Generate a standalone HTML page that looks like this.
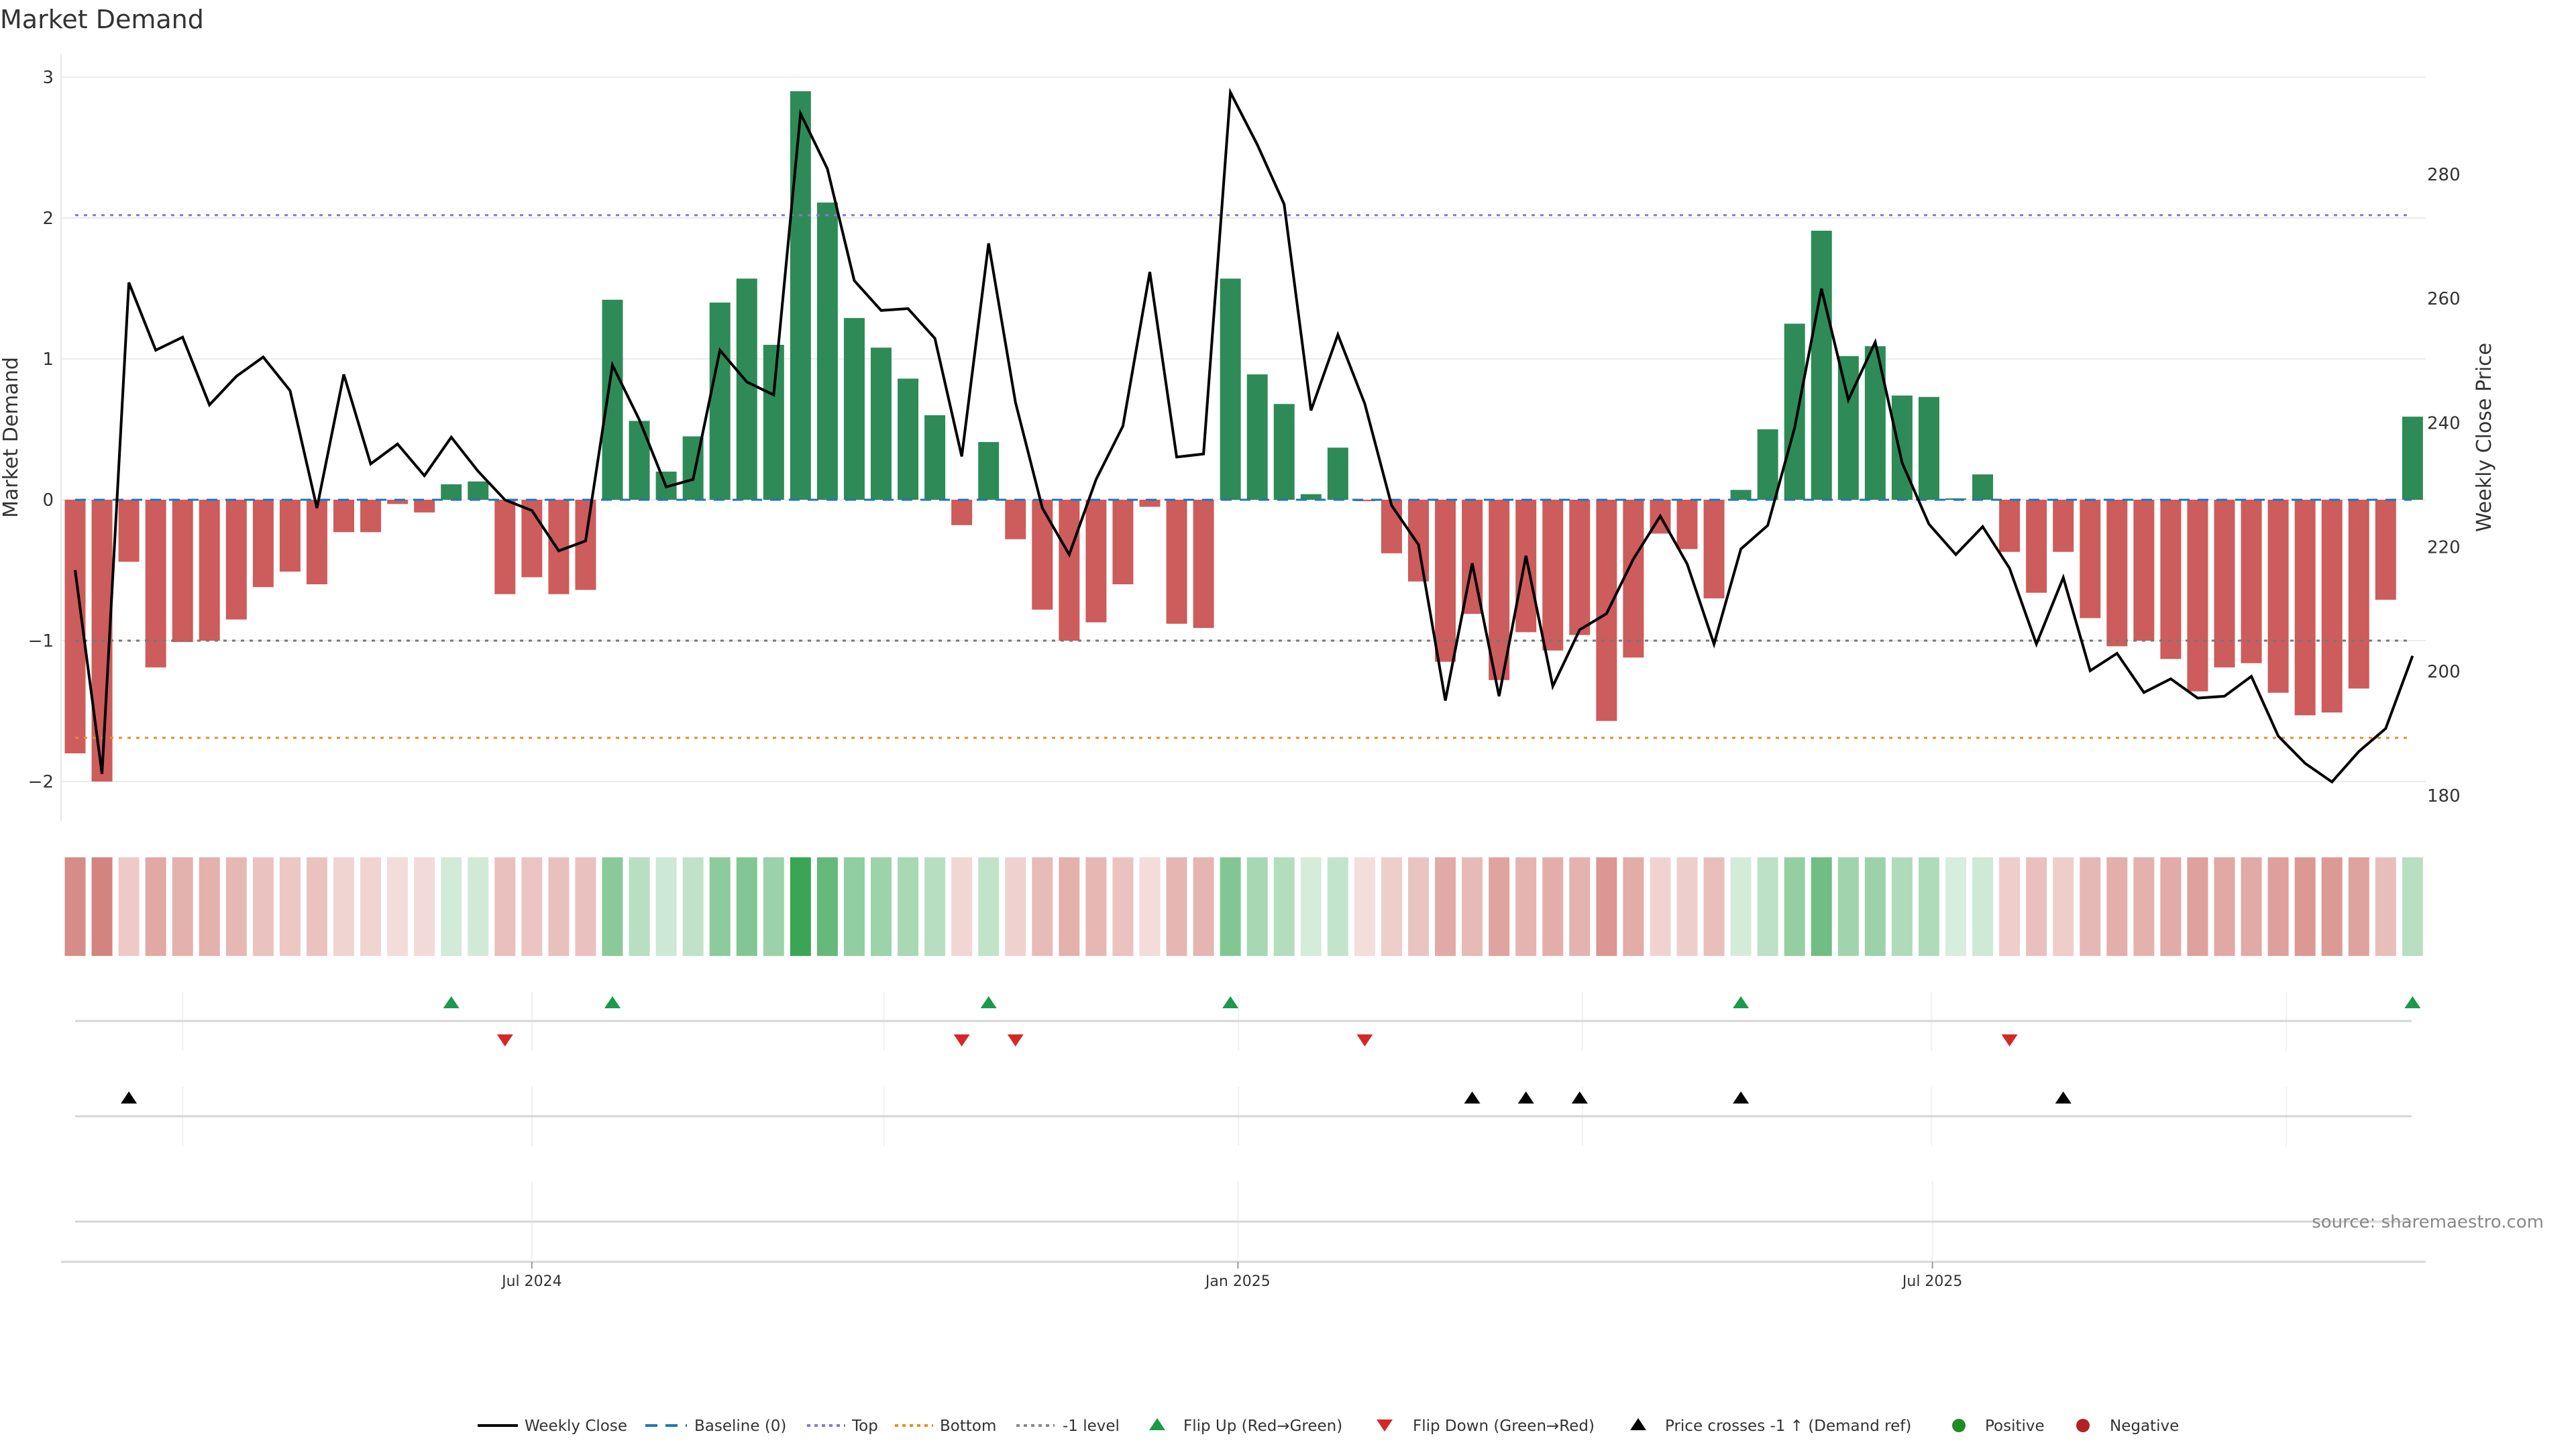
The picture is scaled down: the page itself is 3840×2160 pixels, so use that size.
<!DOCTYPE html>
<html><head><meta charset="utf-8"><style>
html,body{margin:0;padding:0;background:#fff;}
svg{display:block;font-family:"DejaVu Sans","Liberation Sans",sans-serif;}
</style></head><body>
<svg id="chart" width="3840" height="2160" viewBox="0 0 3840 2160" xmlns="http://www.w3.org/2000/svg">
<text x="0" y="42" font-size="38" fill="#333">Market Demand</text>
<g id="main"></g>
</svg>
<script>
const demand = [-1.80,-2.00,-0.44,-1.19,-1.01,-1.00,-0.85,-0.62,-0.51,-0.60,-0.23,-0.23,-0.03,-0.09,0.11,0.13,-0.67,-0.55,-0.67,-0.64,
1.42,0.56,0.20,0.45,1.40,1.57,1.10,2.90,2.11,1.29,1.08,0.86,0.60,-0.18,0.41,-0.28,-0.78,-1.00,-0.87,-0.60,
-0.05,-0.88,-0.91,1.57,0.89,0.68,0.04,0.37,-0.01,-0.38,-0.58,-1.15,-0.81,-1.28,-0.94,-1.07,-0.96,-1.57,-1.12,-0.24,
-0.35,-0.70,0.07,0.50,1.25,1.91,1.02,1.09,0.74,0.73,0.01,0.18,-0.37,-0.66,-0.37,-0.84,-1.04,-1.00,-1.13,-1.36,
-1.19,-1.16,-1.37,-1.53,-1.51,-1.34,-0.71,0.59];
const closePrice = [216.3,183.5,262.6,251.7,253.8,242.9,247.5,250.6,245.2,226.3,247.8,233.4,236.6,231.5,237.7,232.2,227.6,225.9,219.4,221.0,
249.3,240.5,229.7,230.9,251.7,246.6,244.5,289.8,280.9,262.9,258.1,258.4,253.6,234.6,268.9,243.3,226.3,218.8,230.9,239.5,
264.3,234.5,235.0,293.2,284.8,275.2,242.0,254.2,243.1,226.7,220.4,195.3,217.4,196.0,218.6,197.6,206.7,209.3,218.1,225.0,
217.3,204.4,219.7,223.5,239.2,261.6,243.7,253.0,233.6,223.7,218.8,223.3,216.6,204.4,215.1,200.1,202.9,196.6,198.8,195.7,
196.0,199.2,189.6,185.2,182.2,187.1,190.8,202.5];
const flipUpIdx = [14,20,34,43,62,87];
const flipDownIdx = [16,33,35,48,72];
const priceCrossIdx = [2,52,54,56,62,74];
const levels = {top:2.02,bottom:-1.69,minus1:-1,baseline:0};
const leftTicks = [3,2,1,0,-1,-2];
const rightTicks = [180,200,220,240,260,280];
const xTickPos = [17.0,43.28,69.13];
const xTickLabels = ["Jul 2024","Jan 2025","Jul 2025"];
const quarterGrid = [4.0,17.0,30.1,43.3,56.1,69.1,82.3];

const NS="http://www.w3.org/2000/svg";
const g=document.getElementById('main');
function el(tag,attrs,parent){const e=document.createElementNS(NS,tag);for(const k in attrs)e.setAttribute(k,attrs[k]);(parent||g).appendChild(e);return e;}
const X=i=>112+i*40.05;
const Y=v=>745-v*210;
const YR=p=>260+(280-p)*9.26;
const PL=91, PR=3616;

leftTicks.forEach(t=>{
  const l=el('line',{x1:PL,x2:PR,y1:Y(t),y2:Y(t),stroke:'#ececec','stroke-width':2});
  
  
  const tx=el('text',{x:80,y:Y(t)+9,'font-size':26,fill:'#333','text-anchor':'end'});
  tx.textContent=(t<0?'\u2212'+Math.abs(t):t);
  
  
});
const ax=el('line',{x1:PL,x2:PL,y1:80,y2:1224,stroke:'#e6e6e6','stroke-width':2});


rightTicks.forEach(t=>{
  const tx=el('text',{x:3618,y:YR(t)+9,'font-size':26,fill:'#333'});
  tx.textContent=t;
  
  
});
let t1=el('text',{x:0,y:0,'font-size':30,fill:'#333','text-anchor':'middle',transform:'translate(26,652) rotate(-90)'});
t1.textContent='Market Demand';


let t2=el('text',{x:0,y:0,'font-size':30,fill:'#333','text-anchor':'middle',transform:'translate(3713,652) rotate(-90)'});
t2.textContent='Weekly Close Price';



demand.forEach((v,i)=>{
  const y0=Y(0), y1=Y(v);
  const r=el('rect',{x:X(i)-15.5,y:Math.min(y0,y1),width:31,height:Math.abs(y1-y0),fill:v>=0?'#2e8b57':'#cd5c5c'});
  
  
});
[[levels.top,'#8a74e0','5 8'],[levels.bottom,'#ee8a1c','5 8'],[levels.minus1,'#777','5 8'],[levels.baseline,'#1f77b4','16 12']].forEach((L,k)=>{
  const l=el('line',{x1:112,x2:3595,y1:Y(L[0]),y2:Y(L[0]),stroke:L[1],'stroke-width':3,'stroke-dasharray':L[2]});
  
  
});
const pl=el('polyline',{points:closePrice.map((p,i)=>X(i)+','+YR(p)).join(' '),fill:'none',stroke:'#000','stroke-width':4,'stroke-linejoin':'miter'});



demand.forEach((v,i)=>{
  const a=0.2+0.8*Math.min(Math.abs(v)/2.9,1);
  const base=v>=0?[58,166,85]:[198,91,83];
  const c=base.map(b=>Math.round(255-(255-b)*a));
  const r=el('rect',{x:X(i)-15.5,y:1278,width:31,height:147,fill:'rgb('+c.join(',')+')'});
  
  
});

quarterGrid.forEach(q=>{
  const a=el('line',{x1:X(q),x2:X(q),y1:1479,y2:1567,stroke:'#eef0f4','stroke-width':2});
  
  
  const b=el('line',{x1:X(q),x2:X(q),y1:1620,y2:1708,stroke:'#eef0f4','stroke-width':2});
  
  
});
xTickPos.forEach(q=>{
  const a=el('line',{x1:X(q),x2:X(q),y1:1761,y2:1881,stroke:'#eef0f4','stroke-width':2});
  
  
});
[1522,1664,1821].forEach(y=>{
  const l=el('line',{x1:112,x2:3595,y1:y,y2:y,stroke:'#d6d6d6','stroke-width':3});
  
  
});
const xa=el('line',{x1:PL,x2:PR,y1:1881,y2:1881,stroke:'#d6d6d6','stroke-width':3});


xTickPos.forEach((q,k)=>{
  const tk=el('line',{x1:X(q),x2:X(q),y1:1881,y2:1891,stroke:'#999','stroke-width':2});
  
  
  const tx=el('text',{x:X(q),y:1917,'font-size':22,fill:'#333','text-anchor':'middle'});
  tx.textContent=xTickLabels[k];
  
  
});
function tri(cx,cy,up,color,name){
  const p=up?[[cx-12,cy+9],[cx+12,cy+9],[cx,cy-9]]:[[cx-12,cy-9],[cx+12,cy-9],[cx,cy+9]];
  const t=el('polygon',{points:p.map(a=>a.join(',')).join(' '),fill:color});
  
  
}
flipUpIdx.forEach(i=>tri(X(i),1494,true,'#1a9a4a','flip-up-marker'));
flipDownIdx.forEach(i=>tri(X(i),1551,false,'#d62728','flip-down-marker'));
priceCrossIdx.forEach(i=>tri(X(i),1636,true,'#000','price-cross-marker'));

const src=el('text',{x:3792,y:1830,'font-size':26,fill:'#888','text-anchor':'end'});
src.textContent='source: sharemaestro.com';



const LY=2125;
function legText(x,s,name){const t=el('text',{x:x,y:LY+8,'font-size':23,fill:'#333'});t.textContent=s;}
let l;
l=el('line',{x1:712,x2:772,y1:LY,y2:LY,stroke:'#000','stroke-width':4});
legText(782,'Weekly Close','legend-weekly-close');
l=el('line',{x1:962,x2:1024,y1:LY,y2:LY,stroke:'#1f77b4','stroke-width':4,'stroke-dasharray':'18 12'});
legText(1035,'Baseline (0)','legend-baseline');
l=el('line',{x1:1203,x2:1260,y1:LY,y2:LY,stroke:'#8a74e0','stroke-width':4,'stroke-dasharray':'5 6'});
legText(1270,'Top','legend-top');
l=el('line',{x1:1334,x2:1391,y1:LY,y2:LY,stroke:'#ee8a1c','stroke-width':4,'stroke-dasharray':'5 6'});
legText(1401,'Bottom','legend-bottom');
l=el('line',{x1:1515,x2:1572,y1:LY,y2:LY,stroke:'#888','stroke-width':4,'stroke-dasharray':'5 6'});
legText(1584,'-1 level','legend-minus1');
tri(1725,LY-2,true,'#1a9a4a','legend-flip-up-swatch');
legText(1764,'Flip Up (Red\u2192Green)','legend-flip-up');
tri(2064,LY,false,'#d62728','legend-flip-down-swatch');
legText(2106,'Flip Down (Green\u2192Red)','legend-flip-down');
tri(2442,LY-2,true,'#000','legend-price-cross-swatch');
legText(2482,'Price crosses -1 \u2191 (Demand ref)','legend-price-cross');
l=el('circle',{cx:2920,cy:LY,r:10,fill:'#228b22'});
legText(2959,'Positive','legend-positive');
l=el('circle',{cx:3105,cy:LY,r:10,fill:'#b22222'});
legText(3145,'Negative','legend-negative');
</script>
</body></html>
